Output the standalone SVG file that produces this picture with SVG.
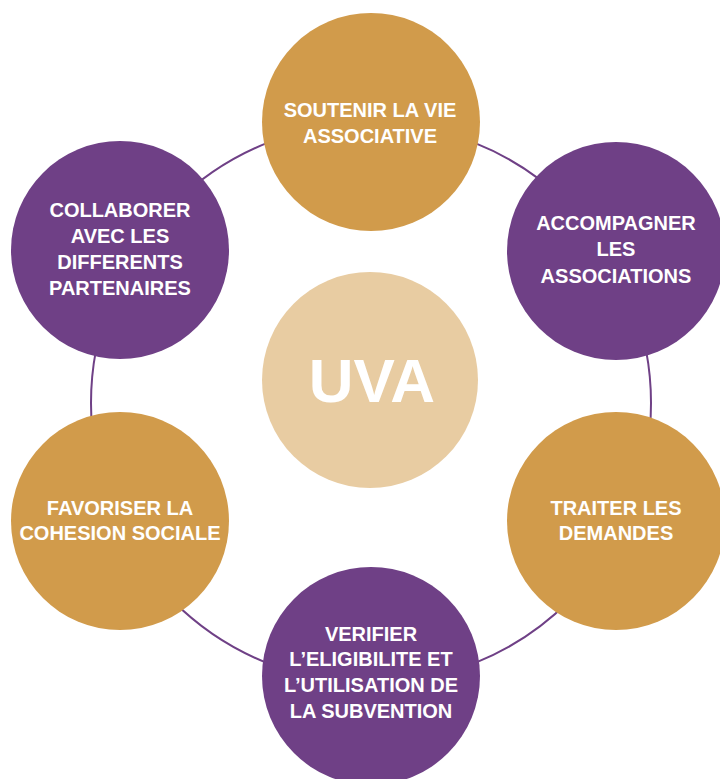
<svg xmlns="http://www.w3.org/2000/svg" width="720" height="779" viewBox="0 0 720 779">
<style>
.gold{fill:#D19B4B}
.purple{fill:#6F4086}
.center{fill:#E8CCA2}
.lbl{font-family:"Liberation Sans","Open Sans",Arial,sans-serif;font-weight:bold;font-size:20px;fill:#FFFFFF;text-anchor:middle}
.big{font-family:"Liberation Sans","Open Sans",Arial,sans-serif;font-weight:bold;font-size:62px;fill:#FFFFFF;text-anchor:middle}
.ring{fill:none;stroke:#6F4086;stroke-width:2}
</style>
<rect width="720" height="779" fill="#FFFFFF"/>
<g id="connectors">
<circle class="ring" cx="371" cy="403" r="280"/>
</g>
<g id="center">
<circle class="center" cx="370" cy="380" r="108"/>
<text class="big" x="372" y="402">UVA</text>
</g>
<g id="soutenir">
<circle class="gold" cx="371" cy="122" r="109"/>
<text class="lbl" x="370" y="117">SOUTENIR LA VIE</text>
<text class="lbl" x="370" y="143">ASSOCIATIVE</text>
</g>
<g id="accompagner">
<circle class="purple" cx="616" cy="251" r="109"/>
<text class="lbl" x="616" y="230">ACCOMPAGNER</text>
<text class="lbl" x="616" y="256">LES</text>
<text class="lbl" x="616" y="283">ASSOCIATIONS</text>
</g>
<g id="traiter">
<circle class="gold" cx="616" cy="521" r="109"/>
<text class="lbl" x="616" y="515">TRAITER LES</text>
<text class="lbl" x="616" y="540">DEMANDES</text>
</g>
<g id="verifier">
<circle class="purple" cx="371" cy="676" r="109"/>
<text class="lbl" x="371" y="641">VERIFIER</text>
<text class="lbl" x="371" y="666">L’ELIGIBILITE ET</text>
<text class="lbl" x="371" y="692">L’UTILISATION DE</text>
<text class="lbl" x="371" y="718">LA SUBVENTION</text>
</g>
<g id="favoriser">
<circle class="gold" cx="120" cy="521" r="109"/>
<text class="lbl" x="120" y="515">FAVORISER LA</text>
<text class="lbl" x="120" y="540">COHESION SOCIALE</text>
</g>
<g id="collaborer">
<circle class="purple" cx="120" cy="250" r="109"/>
<text class="lbl" x="120" y="217">COLLABORER</text>
<text class="lbl" x="120" y="243">AVEC LES</text>
<text class="lbl" x="120" y="269">DIFFERENTS</text>
<text class="lbl" x="120" y="295">PARTENAIRES</text>
</g>
</svg>
